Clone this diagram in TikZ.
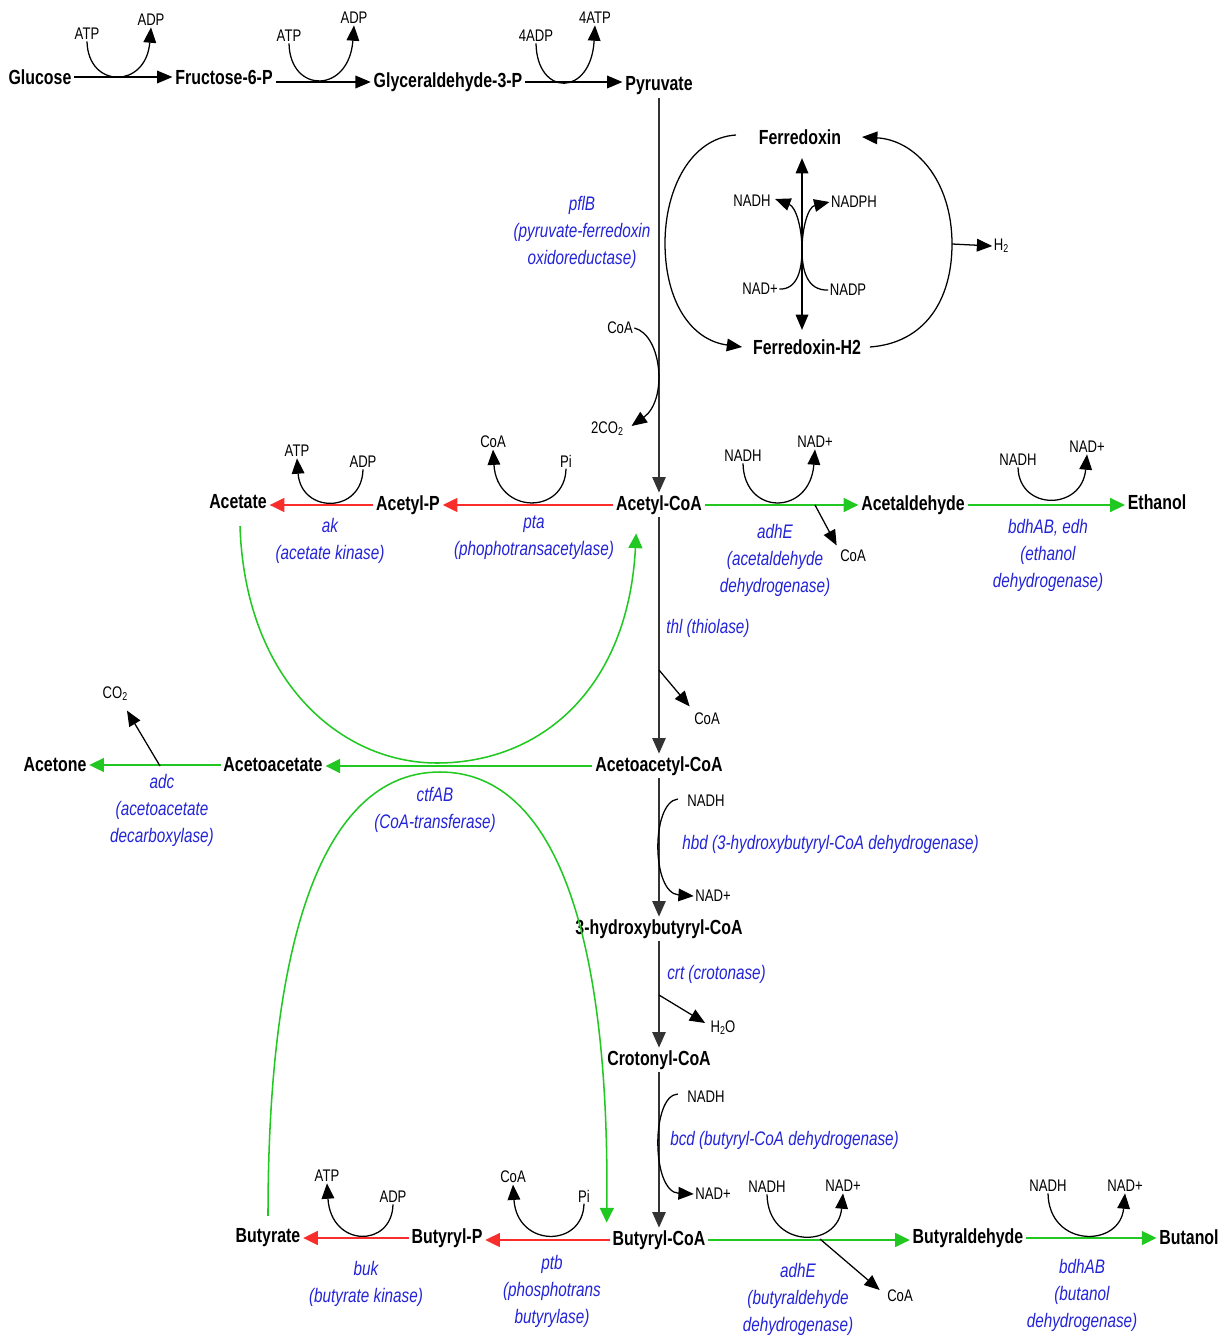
\documentclass[tikz,border=0pt]{standalone}
\usepackage{fontspec}
\setmainfont{Liberation Sans}[FakeStretch=0.78]
\usetikzlibrary{arrows.meta,calc}
\definecolor{pgreen}{RGB}{34,200,34}
\definecolor{pred}{RGB}{250,45,45}
\definecolor{eblue}{RGB}{35,35,215}
\newcommand\subtwo{\raisebox{-0.25ex}{\fontsize{8.5}{9}\selectfont 2}}
\begin{document}
\begin{tikzpicture}[x=0.75pt,y=-0.75pt,
 met/.style={font=\bfseries\fontsize{15.3}{17}\selectfont, inner sep=2pt},
 cof/.style={font=\fontsize{12.6}{14}\selectfont, inner sep=1pt},
 enz/.style={font=\itshape\fontsize{14.7}{20.3}\selectfont, text=eblue, align=center, inner sep=0pt},
 arr/.style={draw=black, line width=0.95pt, -{Triangle[length=11.5pt,width=9.5pt]}},
 varr/.style={draw=black!80, line width=0.85pt, -{Triangle[length=11.5pt,width=10pt]}},
 dbl/.style={draw=black, line width=0.95pt, {Triangle[length=11.5pt,width=9.5pt]}-{Triangle[length=11.5pt,width=9.5pt]}},
 garr/.style={draw=pgreen, line width=1.15pt, -{Triangle[length=11pt,width=10.5pt]}},
 rarr/.style={draw=pred, line width=1.15pt, -{Triangle[length=11pt,width=10.5pt]}}
]
\useasboundingbox (0,0) rectangle (1224,1338);

% ---------- glycolysis ----------
\node[met] (glc) at (40,77) {Glucose};
\node[met] (f6p) at (224,77) {Fructose-6-P};
\node[met] (g3p) at (448,82) {Glyceraldehyde-3-P};
\node[met] (pyr) at (659,86) {Pyruvate};
\draw[arr] (glc.east) -- (glc.east -| f6p.west);
\draw[arr] (f6p.east |- g3p.west) -- (g3p.west);
\draw[arr] (g3p.east) -- (g3p.east -| pyr.west);

\node[cof] (atp1) at (87,34) {ATP};
\node[cof] (adp1) at (151,20) {ADP};
\draw[arr] (atp1.south) .. controls (88,89) and (146,89) .. (adp1.south);
\node[cof] (atp2) at (289,36) {ATP};
\node[cof] (adp2) at (354,18) {ADP};
\draw[arr] (atp2.south) .. controls (290,94) and (349,94) .. (adp2.south);
\node[cof] (adp3) at (536,36) {4ADP};
\node[cof] (atp3) at (595,18) {4ATP};
\draw[arr] (adp3.south) .. controls (537,97) and (591,97) .. (atp3.south);

% ---------- pyruvate -> acetyl-CoA ----------
\node[met] (acoa) at (659,505) {Acetyl-CoA};
\draw[varr] (pyr) -- (acoa);
\node[enz] (pflb) at (582,232) {pflB\\(pyruvate-ferredoxin\\oxidoreductase)};
\node[cof] (coa1) at (620,328) {CoA};
\node[cof] (co2a) at (607,429) {2CO\subtwo};
\draw[arr] (coa1.east) .. controls (662,335) and (668,400) .. ($(co2a.east)+(7,-3)$);

% ---------- ferredoxin cycle ----------
\node[met] (fdx) at (800,137) {Ferredoxin};
\node[met] (fdh) at (807,347) {Ferredoxin-H2};
\coordinate (vc) at (802,250);
\draw[dbl, shorten <=8pt, shorten >=5pt] (fdx.south -| vc) -- (fdh.north -| vc);
\node[cof] (nadh0) at (752,201) {NADH};
\node[cof] (nadph0) at (854,202) {NADPH};
\node[cof] (nadp0) at (760,289) {NAD+};
\node[cof] (nadpp0) at (848,290) {NADP};
\draw[arr] (nadp0.east) .. controls (798,290) and (802,268) .. (vc) .. controls (802,228) and (796,207) .. ($(nadh0.east)+(3,-2)$);
\draw[arr] (nadpp0.west) .. controls (806,291) and (802,268) .. (vc) .. controls (802,228) and (808,207) .. (nadph0.west);
\draw[arr] ($(fdx.west)+(-20,-2)$) .. controls (690,138) and (665,190) .. (665,243) .. controls (665,300) and (690,340) .. ($(fdh.west)+(-8,0)$);
\coordinate (h2b) at (952,244);
\draw[arr] ($(fdh.east)+(6,0)$) .. controls (925,343) and (952,300) .. (h2b) .. controls (952,180) and (915,140) .. ($(fdx.east)+(18,0)$);
\node[cof] (h2) at (1001,246) {H\subtwo};
\draw[arr] (h2b) -- (h2.west);

% ---------- acetate branch ----------
\node[met] (acp) at (408,505) {Acetyl-P};
\node[met] (ace) at (238,502) {Acetate};
\draw[rarr] (acoa.west) -- (acoa.west -| acp.east);
\draw[rarr] (acp.west) -- (acp.west -| ace.east);
\node[cof] (atp4) at (297,451) {ATP};
\node[cof] (adp4) at (363,462) {ADP};
\draw[arr] (adp4.south) .. controls (362,514) and (301,514) .. (atp4.south);
\node[cof] (coa4) at (493,442) {CoA};
\node[cof] (pi4) at (566,461) {Pi};
\draw[arr] (pi4.south) .. controls (565,515) and (497,515) .. (coa4.south);
\node[enz] (ak) at (330,541) {ak\\(acetate kinase)};
\node[enz] (pta) at (534,538) {pta\\(phophotransacetylase)};

% ---------- ethanol branch ----------
\node[met] (ald) at (913,505) {Acetaldehyde};
\node[met] (eth) at (1157,502) {Ethanol};
\draw[garr] (acoa.east) -- (acoa.east -| ald.west);
\draw[garr] (ald.east) -- (ald.east -| eth.west);
\node[cof] (nadh5) at (743,456) {NADH};
\node[cof] (nad5) at (815,442) {NAD+};
\draw[arr] (nadh5.south) .. controls (744,516) and (810,516) .. (nad5.south);
\coordinate (br5) at (815,505);
\node[cof] (coa5) at (853,556) {CoA};
\draw[arr] (br5) -- ($(coa5.north west)+(-2,-3)$);
\node[enz] (adhe1) at (775,560) {adhE\\(acetaldehyde\\dehydrogenase)};
\node[cof] (nadh6) at (1018,460) {NADH};
\node[cof] (nad6) at (1087,447) {NAD+};
\draw[arr] (nadh6.south) .. controls (1019,511) and (1082,511) .. (nad6.south);
\node[enz] (bdh1) at (1048,555) {bdhAB, edh\\(ethanol\\dehydrogenase)};

% ---------- thiolase ----------
\node[met] (aacoa) at (659,766) {Acetoacetyl-CoA};
\draw[varr] (acoa) -- (aacoa);
\node[enz, anchor=west] (thl) at (666,628) {thl (thiolase)};
\coordinate (thlb) at (659,670);
\node[cof] (coa7) at (707,719) {CoA};
\draw[arr] (thlb) -- ($(coa7.north west)+(-3,-5)$);

% ---------- acetone branch ----------
\node[met] (aac) at (273,765) {Acetoacetate};
\node[met] (acn) at (55,765) {Acetone};
\draw[garr] (aacoa.west) -- (aacoa.west -| aac.east);
\draw[garr] (aac.west) -- (aac.west -| acn.east);
\coordinate (co2b) at (160,766);
\node[cof] (co2c) at (115,694) {CO\subtwo};
\draw[arr] (co2b) -- ($(co2c.south)+(12,8)$);
\node[enz] (adc) at (162,810) {adc\\(acetoacetate\\decarboxylase)};
\node[enz] (ctf) at (435,810) {ctfAB\\(CoA-transferase)};

% ---------- hbd ----------
\node[met] (hb) at (659,929) {3-hydroxybutyryl-CoA};
\draw[varr] (aacoa) -- (hb);
\node[cof] (nadh8) at (706,801) {NADH};
\node[cof] (nad8) at (713,896) {NAD+};
\draw[arr] ($(nadh8.west)+(-8,-2)$) .. controls (651,802) and (651,893) .. (nad8.west);
\node[enz, anchor=west] (hbd) at (682,844) {hbd (3-hydroxybutyryl-CoA dehydrogenase)};

% ---------- crt ----------
\node[met] (cro) at (659,1060) {Crotonyl-CoA};
\draw[varr] (hb) -- (cro);
\node[enz, anchor=west] (crt) at (667,974) {crt (crotonase)};
\coordinate (crtb) at (659,995);
\node[cof] (h2o) at (723,1028) {H\subtwo O};
\draw[arr] (crtb) -- ($(h2o.west)+(-4,-5)$);

% ---------- bcd ----------
\node[met] (bcoa) at (659,1240) {Butyryl-CoA};
\draw[varr] (cro) -- (bcoa);
\node[cof] (nadh9) at (706,1097) {NADH};
\node[cof] (nad9) at (713,1194) {NAD+};
\draw[arr] ($(nadh9.west)+(-8,-3)$) .. controls (651,1095) and (651,1192) .. (nad9.west);
\node[enz, anchor=west] (bcd) at (670,1140) {bcd (butyryl-CoA dehydrogenase)};

% ---------- butyrate branch ----------
\node[met] (bp) at (447,1238) {Butyryl-P};
\node[met] (but) at (268,1238) {Butyrate};
\draw[rarr] (bcoa.west) -- (bcoa.west -| bp.east);
\draw[rarr] (bp.west) -- (bp.west -| but.east);
\node[cof] (atp10) at (327,1176) {ATP};
\node[cof] (adp10) at (393,1197) {ADP};
\draw[arr] (adp10.south) .. controls (392,1248) and (331,1248) .. (atp10.south);
\node[cof] (coa10) at (513,1177) {CoA};
\node[cof] (pi10) at (584,1196) {Pi};
\draw[arr] (pi10.south) .. controls (583,1248) and (517,1248) .. (coa10.south);
\node[enz] (buk) at (366,1284) {buk\\(butyrate kinase)};
\node[enz] (ptb) at (552,1291) {ptb\\(phosphotrans\\butyrylase)};

% ---------- butanol branch ----------
\node[met] (bald) at (968,1238) {Butyraldehyde};
\node[met] (buol) at (1189,1237) {Butanol};
\draw[garr] (bcoa.east) -- (bcoa.east -| bald.west);
\draw[garr] (bald.east) -- (bald.east -| buol.west);
\node[cof] (nadh11) at (767,1187) {NADH};
\node[cof] (nad11) at (843,1186) {NAD+};
\draw[arr] (nadh11.south) .. controls (768,1249) and (838,1249) .. (nad11.south);
\coordinate (br11) at (820,1239);
\node[cof] (coa11) at (900,1296) {CoA};
\draw[arr] (br11) -- ($(coa11.west)+(-6,-6)$);
\node[enz] (adhe2) at (798,1299) {adhE\\(butyraldehyde\\dehydrogenase)};
\node[cof] (nadh12) at (1048,1186) {NADH};
\node[cof] (nad12) at (1125,1186) {NAD+};
\draw[arr] (nadh12.south) .. controls (1049,1248) and (1120,1248) .. (nad12.south);
\node[enz] (bdh2) at (1082,1295) {bdhAB\\(butanol\\dehydrogenase)};

% ---------- green CoA-transferase arcs ----------
\draw[garr] ($(ace.south)+(2,14)$) .. controls (245,680) and (340,763) .. (437,763) .. controls (540,763) and (628,690) .. ($(acoa.south west)+(23,16)$);
\draw[garr] ($(but.north)+(0,-10)$) .. controls (268,920) and (330,772) .. (440,772) .. controls (550,772) and (610,920) .. ($(bcoa.north west)+(-3,-5)$);
\end{tikzpicture}
\end{document}
